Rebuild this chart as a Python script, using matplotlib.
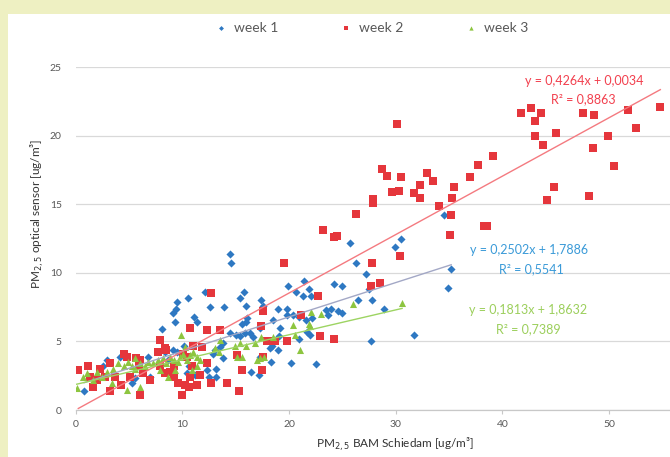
import matplotlib
matplotlib.use("Agg")
import matplotlib.pyplot as plt
from matplotlib.patches import Rectangle
import numpy as np

plt.rcParams['font.family'] = ['Lato', 'DejaVu Sans']

# ---------------- data ----------------
w1_x = [34.5, 25.7, 30.5, 29.9,
        14.5, 14.6, 12.1, 10.5, 9.5, 9.1, 9.3, 8.1, 12.6, 13.9, 11.1, 11.4, 15.4, 15.8, 16.0, 16.1,
        16.0, 15.6, 17.4, 17.6, 19.0, 19.8, 19.9, 20.7, 21.4, 21.3, 21.9, 22.1, 19.8, 20.4, 20.9,
        18.5, 23.5, 23.7, 14.5, 15.0, 15.4, 15.9, 16.3, 13.8, 13.5, 13.1, 21.7, 22.0, 20.9, 19.1,
        19.2, 17.3,
        26.3, 26.5, 24.2, 25.0, 23.9, 24.6, 25.0, 20.2, 22.5, 16.6, 18.4, 17.3, 16.4, 17.2, 18.3,
        18.2, 19.0, 12.3, 12.5, 13.2, 13.2, 9.4, 4.2, 2.9, 2.6, 0.8, 6.8, 7.0, 5.6, 5.3, 8.4, 9.1,
        9.5, 10.2, 10.4, 11.2, 10.6, 8.7, 13.8, 12.9,
        27.2, 35.2, 34.9, 27.5, 27.8, 28.9, 21.6, 22.2, 27.7, 31.7]
w1_y = [14.2, 12.2, 12.5, 11.9,
        11.4, 10.7, 8.6, 8.15, 7.9, 7.06, 6.4, 5.9, 7.5, 7.5, 6.8, 6.4, 8.15, 8.6, 7.6, 6.7,
        6.4, 6.3, 8.0, 7.6, 7.4, 7.4, 9.05, 8.6, 9.4, 8.3, 8.8, 8.3, 6.9, 6.9, 6.8,
        6.6, 7.3, 6.9, 5.6, 5.5, 5.4, 5.6, 5.6, 4.9, 4.6, 4.4, 5.7, 5.5, 5.2, 5.4,
        6.0, 6.0,
        10.75, 8.0, 9.2, 9.05, 7.35, 7.25, 7.1, 3.4, 3.36, 5.3, 4.7, 3.9, 2.75, 2.55, 3.5,
        4.5, 4.4, 2.9, 2.4, 3.0, 2.4, 7.4, 3.9, 3.65, 3.2, 1.4, 3.9, 2.4, 2.3, 1.95, 4.25, 4.4,
        4.25, 4.7, 2.7, 2.55, 3.2, 3.65, 3.8, 4.1,
        9.9, 10.3, 8.9, 8.8, 8.0, 7.4, 6.6, 6.7, 5.0, 5.5]

w2_x = [41.7, 42.7, 43.6, 43.1, 43.1, 43.8, 45.0, 47.6, 48.6, 51.8, 54.8, 52.5, 49.9, 48.5, 50.5,
        44.8, 44.2, 48.1, 39.1, 37.7, 37.0, 35.5, 35.3, 35.2, 35.1, 34.1, 38.3, 38.6, 33.5, 32.9,
        32.3, 32.3, 31.7, 30.5, 30.3, 29.7, 29.2, 28.7, 30.1, 27.9, 27.9, 26.3, 24.5, 24.2, 30.4,
        23.2, 19.5, 12.7, 17.6, 22.7, 21.1, 10.7, 12.3, 13.5, 17.4, 22.9, 19.8, 17.9, 18.7, 11.0,
        11.8, 7.9, 8.4, 10.1, 15.1, 17.6,
        24.2, 17.5, 15.6, 14.2, 15.3, 12.7, 12.3, 10.6, 10.0, 6.0, 3.2, 0.25, 1.2, 1.35, 2.0,
        3.2, 3.7, 4.5, 4.8, 5.7, 6.0, 5.1, 4.3, 7.0, 7.75, 8.5, 7.9, 8.4, 9.2, 9.6, 10.25, 10.7,
        11.35, 10.9, 10.4, 9.2, 8.85, 11.7, 6.35, 5.9, 2.75, 2.3, 1.65,
        27.8, 27.7, 28.5]
w2_y = [21.66, 22.0, 21.66, 21.1, 20.0, 19.3, 20.2, 21.66, 21.5, 21.9, 22.1, 20.6, 20.0, 19.1, 17.8,
        16.3, 15.3, 15.6, 18.5, 17.9, 17.0, 16.3, 15.5, 14.2, 12.8, 14.9, 13.4, 13.4, 16.7, 17.3,
        16.4, 15.5, 15.8, 17.0, 16.0, 15.9, 17.1, 17.6, 20.85, 15.4, 15.1, 14.3, 12.7, 12.6, 11.2,
        13.1, 10.75, 8.5, 7.2, 8.3, 6.9, 6.0, 5.8, 5.8, 6.1, 5.4, 5.0, 5.0, 5.0, 4.7,
        4.6, 5.1, 4.5, 4.1, 4.0, 3.9,
        5.2, 2.9, 2.9, 1.95, 1.4, 2.0, 3.4, 1.7, 1.1, 1.1, 1.4, 2.9, 3.2, 2.4, 2.2,
        3.4, 2.4, 4.1, 3.9, 3.8, 3.65, 2.4, 1.8, 2.2, 4.25, 4.4, 3.2, 2.7, 3.2, 1.95, 1.8, 2.4,
        1.8, 3.2, 3.9, 2.4, 2.8, 2.55, 2.7, 3.2, 2.4, 3.0, 1.7,
        10.7, 9.05, 9.3]

w3_x = [0.1, 1.65, 2.0, 1.05, 0.7, 2.45, 2.9, 3.5, 4.0, 4.5, 4.9, 5.3, 5.6, 6.0, 6.5, 6.8, 7.3,
        7.75, 8.2, 8.5, 8.85, 9.2, 9.6, 9.8, 10.1, 10.4, 10.7, 11.0, 11.35, 11.7, 9.9, 10.25, 4.8,
        6.0, 3.4, 5.6, 7.9, 8.7, 9.3, 13.1, 13.5, 13.4, 14.9, 15.4, 16.0, 16.8, 15.1, 15.6, 17.0,
        17.3, 17.7, 20.4, 20.6, 21.9, 23.0, 26.0, 21.0, 10.9, 11.35,
        17.4, 22.0, 18.5, 30.6, 22.1]
w3_y = [1.6, 2.2, 2.8, 2.7, 2.4, 2.4, 2.8, 3.0, 3.4, 3.2, 3.5, 3.2, 3.8, 3.45, 3.2, 3.5, 3.4,
        3.65, 3.8, 3.4, 3.9, 3.65, 3.5, 3.9, 4.1, 3.65, 4.0, 4.25, 3.9, 3.65, 5.5, 4.6, 1.46,
        1.7, 1.95, 3.0, 2.9, 2.4, 2.9, 4.5, 5.1, 4.25, 4.7, 4.9, 4.7, 4.9, 3.9, 3.9, 3.65,
        3.8, 3.85, 6.2, 5.5, 6.3, 7.0, 7.7, 4.4, 2.9, 3.2,
        5.35, 6.1, 5.35, 7.8, 7.15]

series_names = ['week 1', 'week 2', 'week 3']
trend_slope = [0.2502, 0.4264, 0.1813]
trend_icept = [1.7886, 0.0034, 1.8632]
trend_r2 = ['0,5541', '0,8863', '0,7389']
eq_text = ['y = 0,2502x + 1,7886', 'y = 0,4264x + 0,0034', 'y = 0,1813x + 1,8632']

xticks = [0, 10, 20, 30, 40, 50]
yticks = [0, 5, 10, 15, 20, 25]

# ---------------- style ----------------
W, H = 670, 457
fig = plt.figure(figsize=(W / 100, H / 100), dpi=100)
fig.patch.set_facecolor('#eef0c2')
fig.add_artist(Rectangle((8 / W, 0), 1 - 8 / W, 1 - 14 / H, transform=fig.transFigure,
                         facecolor='white', edgecolor='none', zorder=0))

x0, x1 = 75.6, 670.0
y0, y1 = 410.0, 67.3
ax = fig.add_axes([x0 / W, 1 - y0 / H, (x1 - x0) / W, (y0 - y1) / H])
ax.set_facecolor('none')
ax.set_zorder(1)

px_per_x = 10.67
ax.set_xlim(0, (x1 - x0) / px_per_x)
ax.set_ylim(0, 25)

colors = ['#2e78c2', '#e5363c', '#8dc540']
markers = ['D', 's', '^']
sizes = [17, 27, 26]
tcolors = ['#a3a8c6', '#f47a80', '#9dd462']
acolors = ['#3a9ad8', '#f2404e', '#9ccf5c']

data = [(w1_x, w1_y), (w2_x, w2_y), (w3_x, w3_y)]
for i, (xs, ys) in enumerate(data):
    ax.scatter(xs, ys, marker=markers[i], s=sizes[i], color=colors[i], linewidths=0,
               label=series_names[i], zorder=3 + i)

for i, (xs, ys) in enumerate(data):
    xr = np.array([min(xs), max(xs)])
    ax.plot(xr, trend_slope[i] * xr + trend_icept[i], color=tcolors[i], lw=1.0, zorder=7)

# annotations (eq, R2) positions in data coordinates
ann_pos = [((42.5, 11.7), (42.7, 10.3)), ((47.7, 24.0), (47.6, 22.7)), ((42.4, 7.3), (42.4, 5.9))]
for i in range(3):
    (ex, ey), (rx, ry) = ann_pos[i]
    ax.text(ex, ey, eq_text[i], color=acolors[i], fontsize=9, ha='center', va='center', zorder=8)
    ax.text(rx, ry, 'R² = ' + trend_r2[i], color=acolors[i], fontsize=9, ha='center', va='center', zorder=8)

ax.set_xticks(xticks)
ax.set_yticks(yticks)
ax.yaxis.grid(True, color='#d9d9d9', lw=0.9)
ax.set_axisbelow(True)
for s in ['top', 'right', 'left']:
    ax.spines[s].set_visible(False)
ax.spines['bottom'].set_color('#c8c8c8')
ax.spines['bottom'].set_linewidth(0.9)
ax.tick_params(axis='x', length=3, color='#c8c8c8', labelsize=7.5, labelcolor='#595959', pad=4)
ax.tick_params(axis='y', length=0, labelsize=7.5, labelcolor='#595959', pad=10)

fig.text(394.6 / W, 1 - 444 / H, 'PM$_{2,5}$ BAM Schiedam [ug/m³]', ha='center', va='center',
         fontsize=8.5, color='#333333')
fig.text(37 / W, 1 - 214 / H, 'PM$_{2,5}$ optical sensor [ug/m³]', ha='center', va='center',
         rotation=90, fontsize=8.5, color='#333333')

leg = ax.legend(loc='center', bbox_to_anchor=(372 / W, 1 - 28 / H), bbox_transform=fig.transFigure,
                ncol=3, frameon=False, fontsize=10, markerscale=0.6, handlelength=0.8,
                handletextpad=0.5, columnspacing=4.5, labelcolor='#595959')

fig.savefig('out.png', dpi=100, facecolor=fig.get_facecolor())
